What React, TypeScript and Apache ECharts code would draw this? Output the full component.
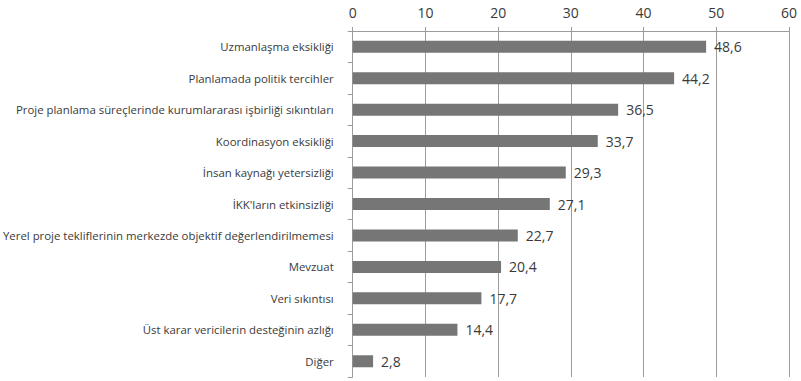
import React, { useEffect, useRef } from "react";
import * as echarts from "echarts";

const categories = [
  "Uzmanlaşma eksikliği",
  "Planlamada politik tercihler",
  "Proje planlama süreçlerinde kurumlararası işbirliği sıkıntıları",
  "Koordinasyon eksikliği",
  "İnsan kaynağı yetersizliği",
  "İKK'ların etkinsizliği",
  "Yerel proje tekliflerinin merkezde objektif değerlendirilmemesi",
  "Mevzuat",
  "Veri sıkıntısı",
  "Üst karar vericilerin desteğinin azlığı",
  "Diğer",
];
const values = [48.6, 44.2, 36.5, 33.7, 29.3, 27.1, 22.7, 20.4, 17.7, 14.4, 2.8];
const xMin = 0;
const xMax = 60;
const xInterval = 10;

export default function App() {
  const ref = useRef<HTMLDivElement>(null);
  useEffect(() => {
    if (!ref.current) return;
    const chart = echarts.init(ref.current, null, { renderer: "svg" });
    chart.setOption({
      animation: false,
      backgroundColor: "#ffffff",
      grid: { left: 352, right: 12, top: 31, bottom: 4, containLabel: false },
      xAxis: {
        type: "value",
        position: "top",
        min: xMin,
        max: xMax,
        interval: xInterval,
        axisLine: { show: true, lineStyle: { color: "#9c9c9c", width: 1 } },
        axisTick: { show: true, length: 4, lineStyle: { color: "#9c9c9c" } },
        splitLine: { show: true, lineStyle: { color: "#9c9c9c", width: 1 } },
        axisLabel: {
          color: "#3a3a3a",
          fontSize: 14,
          fontFamily: "Open Sans",
          margin: 12,
        },
      },
      yAxis: {
        type: "category",
        inverse: true,
        data: categories,
        axisLine: { show: true, lineStyle: { color: "#9c9c9c", width: 1 } },
        axisTick: { show: true, length: 5, lineStyle: { color: "#9c9c9c" } },
        axisLabel: {
          color: "#3a3a3a",
          fontSize: 11.4,
          fontFamily: "Open Sans",
          margin: 19,
        },
      },
      series: [
        {
          type: "bar",
          data: values,
          barWidth: 12,
          itemStyle: { color: "#767676" },
          label: {
            show: true,
            position: "right",
            distance: 8,
            color: "#3a3a3a",
            fontSize: 14,
            fontFamily: "Open Sans",
            formatter: (p: any) => String(p.value).replace(".", ","),
          },
        },
      ],
    });
    return () => chart.dispose();
  }, []);
  return <div ref={ref} style={{ width: 801, height: 381, position: "absolute", left: 0, top: 0 }} />;
}
